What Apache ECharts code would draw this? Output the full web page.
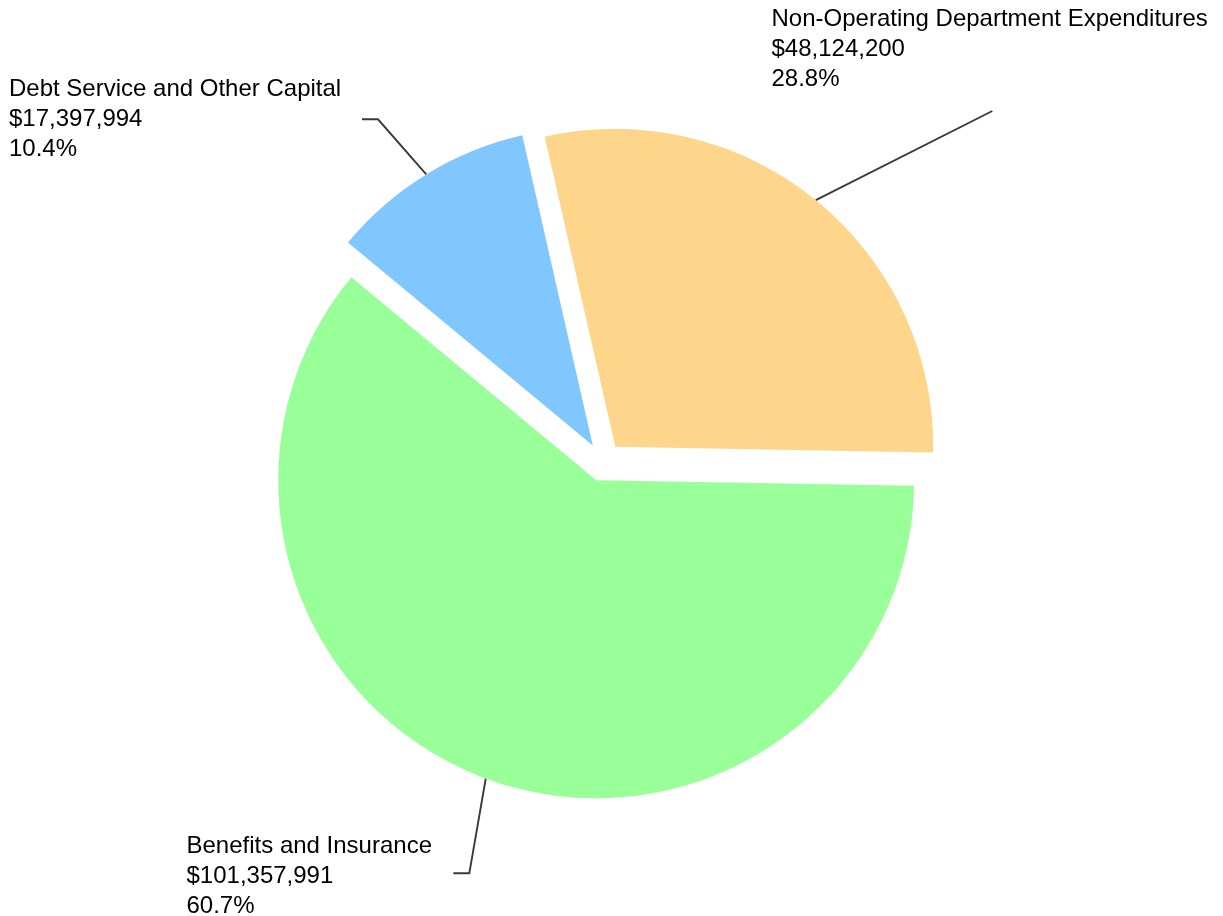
<!DOCTYPE html>
<html>
<head>
<meta charset="utf-8">
<script src="https://cdn.jsdelivr.net/npm/echarts@6/dist/echarts.min.js"></script>
<style>
html,body{margin:0;padding:0;background:#ffffff;}
#chart{width:1223px;height:916px;}
</style>
</head>
<body>
<div id="chart"></div>
<script>
// ---- data ----
const categories = ['Benefits and Insurance', 'Debt Service and Other Capital', 'Non-Operating Department Expenditures'];
const amounts = [101357991, 17397994, 48124200];

// ---- styles / layout ----
const colors = ['#99ff99', '#80c7ff', '#fdd58b'];
const pieCenter = [603, 462];
const pieRadius = 318;
const explodeDistance = 19.5;
const startAngle = -1;
const labelPlacement = [
  { x: 186.5, y: 831, elbow: [[469.3, 873.3], [453.3, 873.3]] },
  { x: 9, y: 74, elbow: [[378, 119.3], [362, 119.3]] },
  { x: 771.5, y: 4.5, elbow: [[992.3, 111]] }
];

const total = amounts.reduce((a, b) => a + b, 0);

function fmtLabel(p) {
  return p.name + '\n$' + Number(p.value).toLocaleString('en-US') + '\n' + (p.value / total * 100).toFixed(1) + '%';
}

const series = categories.map((_, k) => {
  let cum = 0;
  for (let j = 0; j < k; j++) cum += amounts[j];
  const mid = (startAngle - 360 * (cum + amounts[k] / 2) / total) * Math.PI / 180;
  const c = [pieCenter[0] + explodeDistance * Math.cos(mid), pieCenter[1] - explodeDistance * Math.sin(mid)];
  return {
    type: 'pie',
    center: c,
    radius: pieRadius,
    startAngle: startAngle,
    clockwise: true,
    avoidLabelOverlap: false,
    silent: true,
    animation: false,
    data: categories.map((name, i) => ({
      name: name,
      value: amounts[i],
      itemStyle: { color: i === k ? colors[i] : 'rgba(0,0,0,0)' },
      label: { show: i === k },
      labelLine: { show: i === k }
    })),
    label: {
      position: 'outside',
      formatter: fmtLabel,
      fontFamily: 'Liberation Sans, Arial, Helvetica, sans-serif',
      fontSize: 24,
      lineHeight: 30,
      color: '#000000',
      width: 470,
      overflow: 'none'
    },
    labelLine: {
      length: 20,
      length2: 20,
      smooth: false,
      lineStyle: { color: '#3a3a3a', width: 1.9 }
    },
    labelLayout: function (p) {
      if (p.dataIndex !== k) return {};
      const pl = labelPlacement[k];
      const res = { x: pl.x, y: pl.y, align: 'left', verticalAlign: 'top' };
      if (p.labelLinePoints && p.labelLinePoints.length) {
        res.labelLinePoints = [p.labelLinePoints[0]].concat(pl.elbow);
      }
      return res;
    }
  };
});

const chart = echarts.init(document.getElementById('chart'), null, { renderer: 'canvas' });
chart.setOption({
  backgroundColor: '#ffffff',
  animation: false,
  series: series
});
</script>
</body>
</html>
